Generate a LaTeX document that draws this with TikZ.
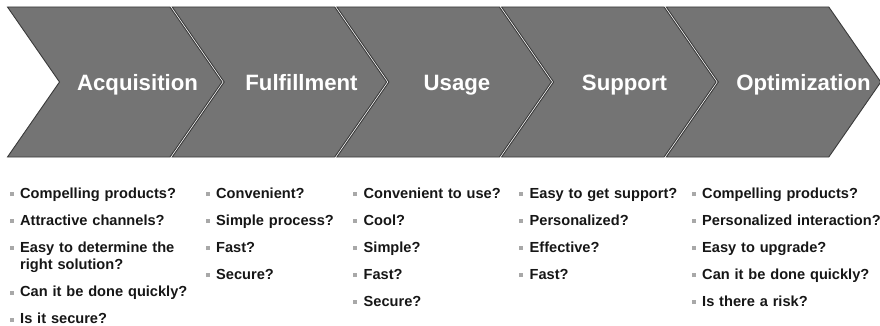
\documentclass[tikz,border=0pt]{standalone}
\usepackage{fontspec}
\setmainfont{Liberation Sans}
\usetikzlibrary{positioning}

\definecolor{chevfill}{HTML}{747474}
\definecolor{chevline}{HTML}{3A3A3A}
\definecolor{bulgray}{HTML}{A8A8A8}
\definecolor{qtext}{HTML}{161616}

% small grey square in front of every question
\newcommand{\qbul}{\makebox[10.5pt][l]{\textcolor{bulgray}{\rule[2.4pt]{4pt}{4pt}}}}
\newcommand{\qitem}[1]{\hangindent=10.5pt\hangafter=1\noindent\strut\qbul#1\strut\par}

\tikzset{
  stage/.style={fill=chevfill, draw=chevline, line width=0.9pt, line join=miter},
  stagetext/.style={anchor=base, inner sep=0pt, text=white,
    font=\fontsize{22.2}{26}\selectfont\bfseries},
  questions/.style={anchor=north west, inner sep=0pt, text width=200pt, align=left,
    text=qtext, font=\fontsize{14.6}{17.5}\selectfont\bfseries\setlength{\parskip}{9.5pt}}
}

\begin{document}
\begin{tikzpicture}[x=1pt,y=-1pt]
  \useasboundingbox (0,0) rectangle (880,326);

  % the five stages
  \foreach \name/\cx [count=\i from 0] in
      {Acquisition/137.5, Fulfillment/301.5, Usage/457, Support/624.5, Optimization/803.5}
  {
    \draw[stage] ({7.5+164.7*\i},7) -- ++(162.5,0) -- ++(52,75) -- ++(-52,75)
                 -- ++(-162.5,0) -- ++(52,-75) -- cycle;
    \node[stagetext] (stage\i) at (\cx,90.7) {\name};
  }

  % questions under each stage
  \node[questions] (acq) at (9.5,186) {%
    \qitem{Compelling products?}
    \qitem{Attractive channels?}
    \qitem{Easy to determine the\newline right solution?}
    \qitem{Can it be done quickly?}
    \qitem{Is it secure?}};
  \node[questions] (ful) at (205.5,186) {%
    \qitem{Convenient?}
    \qitem{Simple process?}
    \qitem{Fast?}
    \qitem{Secure?}};
  \node[questions] (use) at (353,186) {%
    \qitem{Convenient to use?}
    \qitem{Cool?}
    \qitem{Simple?}
    \qitem{Fast?}
    \qitem{Secure?}};
  \node[questions] (sup) at (519,186) {%
    \qitem{Easy to get support?}
    \qitem{Personalized?}
    \qitem{Effective?}
    \qitem{Fast?}};
  \node[questions] (opt) at (691.5,186) {%
    \qitem{Compelling products?}
    \qitem{Personalized interaction?}
    \qitem{Easy to upgrade?}
    \qitem{Can it be done quickly?}
    \qitem{Is there a risk?}};
\end{tikzpicture}
\end{document}
